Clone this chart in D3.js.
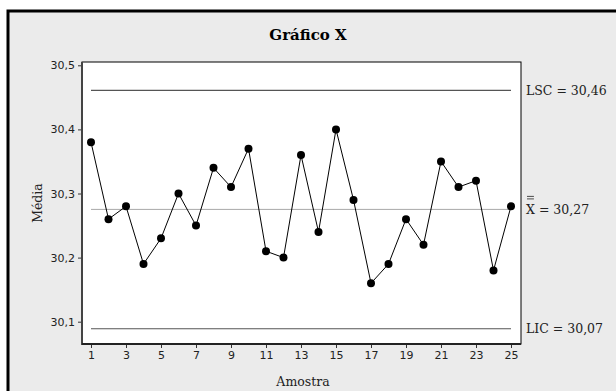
<!DOCTYPE html>
<html>
<head>
<meta charset="utf-8">
<script src="https://cdn.jsdelivr.net/npm/d3@7"></script>
<style>
  html, body { margin: 0; padding: 0; background: #fff; }
  svg { display: block; }
</style>
</head>
<body>
<svg id="chart" width="616" height="391"></svg>
<script>
// Sample numbers and sample means
const amostras = d3.range(1, 26);
const medias = [
    30.38, 30.26, 30.28, 30.19, 30.23, 30.30, 30.25, 30.34, 30.31, 30.37,
    30.21, 30.20, 30.36, 30.24, 30.40, 30.29, 30.16, 30.19, 30.26, 30.22,
    30.35, 30.31, 30.32, 30.18, 30.28
];

// Control limits (line positions) and their printed labels
const limites = [30.461, 30.2752, 30.089];
const limiteRotulos = ["LSC = 30,46", " = 30,27", "LIC = 30,07"];

const yTicks = [30.1, 30.2, 30.3, 30.4, 30.5];
const xTicks = [1, 3, 5, 7, 9, 11, 13, 15, 17, 19, 21, 23, 25];

const svg = d3.select("#chart");

// Outer frame
svg.append("rect")
    .attr("x", 8).attr("y", 11)
    .attr("width", 640).attr("height", 420)
    .attr("fill", "#ebebeb")
    .attr("stroke", "#000")
    .attr("stroke-width", 3);

// Plot box
const box = { left: 82, right: 521, top: 62, bottom: 344 };

const x = d3.scaleLinear().domain([1, 25]).range([91, 511]);
const y = d3.scaleLinear().domain([30.1, 30.5]).range([321.7, 65.3]);

svg.append("rect")
    .attr("x", box.left).attr("y", box.top)
    .attr("width", box.right - box.left)
    .attr("height", box.bottom - box.top)
    .attr("fill", "#fff")
    .attr("stroke", "#000")
    .attr("stroke-width", 1);

// Title
svg.append("text")
    .attr("x", 308).attr("y", 40)
    .attr("text-anchor", "middle")
    .attr("font-family", "DejaVu Serif")
    .attr("font-weight", "bold")
    .attr("font-size", 15)
    .text("Gráfico X");

// Axes
const fmt = d3.format(".1f");
const yAxis = d3.axisLeft(y)
    .tickValues(yTicks)
    .tickSize(4)
    .tickPadding(3)
    .tickFormat((d) => fmt(d).replace(".", ","));

const xAxis = d3.axisBottom(x)
    .tickValues(xTicks)
    .tickSize(4)
    .tickPadding(3)
    .tickFormat(d3.format("d"));

const gy = svg.append("g")
    .attr("transform", `translate(${box.left},0)`)
    .call(yAxis);
gy.select(".domain").remove();

const gx = svg.append("g")
    .attr("transform", `translate(0,${box.bottom})`)
    .call(xAxis);
gx.select(".domain").remove();

[gx, gy].forEach((g) => {
    g.selectAll("text")
        .attr("font-family", "DejaVu Sans")
        .attr("font-size", 11)
        .attr("fill", "#222");
    g.selectAll("line").attr("stroke", "#333");
});

// Left and bottom axis lines, thicker than the box
svg.append("line")
    .attr("x1", box.left).attr("x2", box.left)
    .attr("y1", box.top).attr("y2", box.bottom + 1)
    .attr("stroke", "#444").attr("stroke-width", 2);
svg.append("line")
    .attr("x1", box.left).attr("x2", box.right)
    .attr("y1", box.bottom).attr("y2", box.bottom)
    .attr("stroke", "#222").attr("stroke-width", 2);

// Axis titles
svg.append("text")
    .attr("transform", `translate(42,${(box.top + box.bottom) / 2}) rotate(-90)`)
    .attr("text-anchor", "middle")
    .attr("font-family", "DejaVu Serif")
    .attr("font-size", 12.5)
    .attr("fill", "#222")
    .text("Média");

svg.append("text")
    .attr("x", 303).attr("y", 386)
    .attr("text-anchor", "middle")
    .attr("font-family", "DejaVu Serif")
    .attr("font-size", 12.5)
    .attr("fill", "#222")
    .text("Amostra");

// Control lines
svg.selectAll(".limite")
    .data(limites)
    .enter()
    .append("line")
    .classed("limite", true)
    .attr("x1", x(1)).attr("x2", x(25))
    .attr("y1", (d) => y(d)).attr("y2", (d) => y(d))
    .attr("stroke", (d, i) => (i === 1 ? "#a8a8a8" : "#555"))
    .attr("stroke-width", (d, i) => (i === 1 ? 1 : 1.2));

// Labels for the control lines
const rotulos = svg.selectAll(".rotulo")
    .data(limites)
    .enter()
    .append("text")
    .classed("rotulo", true)
    .attr("x", 526)
    .attr("y", (d) => y(d) + 4.5)
    .attr("font-family", "DejaVu Serif")
    .attr("font-size", 12.5)
    .attr("fill", "#222");

rotulos.each(function (d, i) {
    const t = d3.select(this);
    if (i === 1) {
        t.append("tspan").text("X");
        t.append("tspan").text(limiteRotulos[i]);
    } else {
        t.text(limiteRotulos[i]);
    }
});

// Double bar over the X of the centre line label
const xBarW = rotulos.filter((d, i) => i === 1).node().getSubStringLength(0, 1);
[0, 2.5].forEach((off) => {
    svg.append("line")
        .attr("x1", 527).attr("x2", 526 + xBarW - 1)
        .attr("y1", y(limites[1]) - 10.5 - off)
        .attr("y2", y(limites[1]) - 10.5 - off)
        .attr("stroke", "#222").attr("stroke-width", 0.8);
});

// Series line and points
const serie = amostras.map((a, i) => [a, medias[i]]);

svg.append("path")
    .datum(serie)
    .attr("fill", "none")
    .attr("stroke", "#000")
    .attr("stroke-width", 1)
    .attr("d", d3.line().x((d) => x(d[0])).y((d) => y(d[1])));

svg.selectAll(".ponto")
    .data(serie)
    .enter()
    .append("circle")
    .classed("ponto", true)
    .attr("cx", (d) => x(d[0]))
    .attr("cy", (d) => y(d[1]))
    .attr("r", 4)
    .attr("fill", "#000");
</script>
</body>
</html>
